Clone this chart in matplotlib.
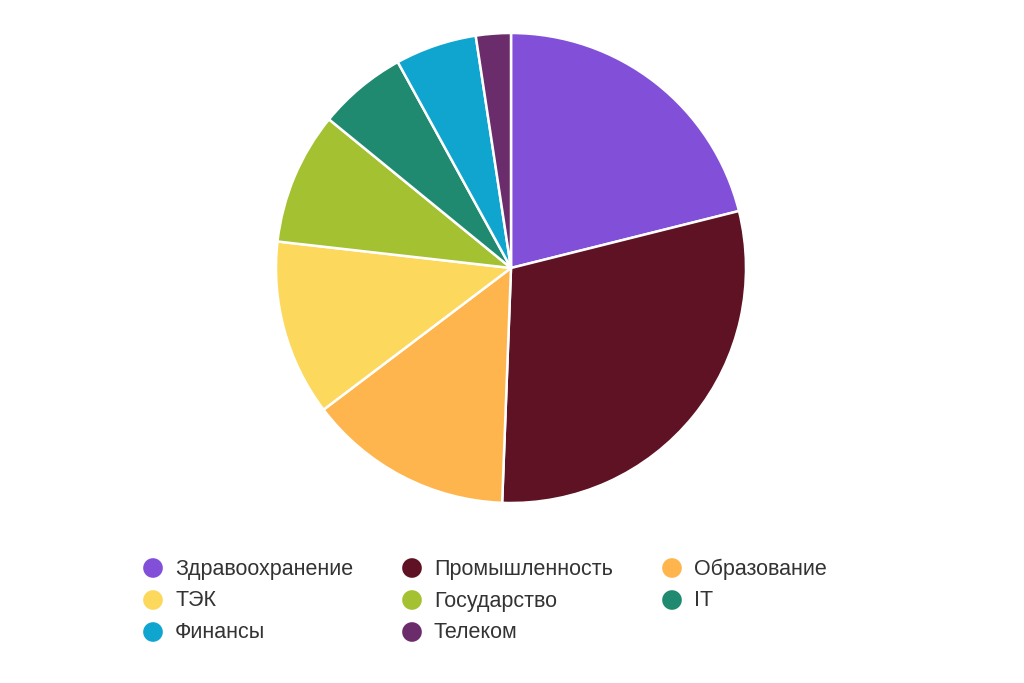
import matplotlib
matplotlib.use('Agg')
import matplotlib.pyplot as plt

# Sector shares (percent), clockwise from top
labels = ['Здравоохранение', 'Промышленность', 'Образование', 'ТЭК',
          'Государство', 'IT', 'Финансы', 'Телеком']
shares = [21.1, 29.5, 14.1, 12.1, 9.1, 6.1, 5.6, 2.4]
colors = ['#8250d8', '#5e1224', '#ffb54d', '#fcd95c',
          '#a3c130', '#1f8a70', '#0fa5cf', '#6a2c6a']

plt.rcParams['font.family'] = ['Liberation Sans', 'DejaVu Sans']

W, H = 1024, 683
fig = plt.figure(figsize=(W / 100, H / 100), dpi=100)

# pie: centre (511, 268), radius 234 px
cx, cy, r = 511, 268, 235
ax = fig.add_axes([(cx - r) / W, (H - cy - r) / H, 2 * r / W, 2 * r / H])
ax.pie(shares, colors=colors, startangle=90, counterclock=False, radius=1,
       wedgeprops=dict(edgecolor='white', linewidth=1.8))
ax.set_xlim(-1.0, 1.0)
ax.set_ylim(-1.0, 1.0)
ax.set_aspect('equal')
ax.axis('off')

# legend, 3 columns laid out by hand
lax = fig.add_axes([0, 0, 1, 1])
lax.set_xlim(0, W)
lax.set_ylim(H, 0)
lax.axis('off')
col_x = [153, 412, 672]
row_y = [568, 600, 632]
for i, (lab, col) in enumerate(zip(labels, colors)):
    x = col_x[i % 3]
    y = row_y[i // 3]
    lax.scatter([x], [y], s=200, color=col, edgecolors='none')
    lax.text(x + 22, y + 1, lab, fontsize=15.5, color='#333333',
             va='center', ha='left')

fig.savefig('out.png', dpi=100, facecolor='white')
